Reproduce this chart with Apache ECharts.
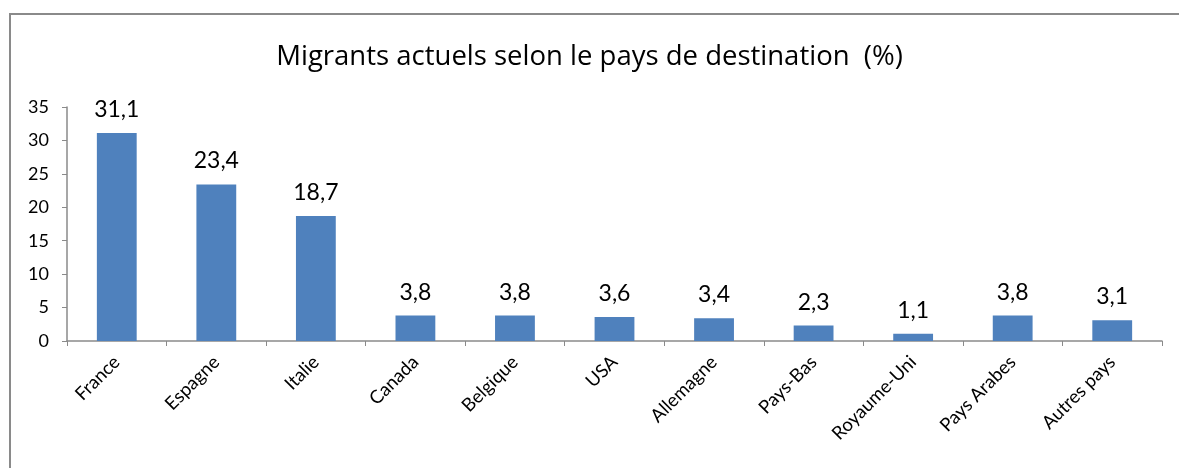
<!DOCTYPE html>
<html>
<head>
    <meta charset="utf-8">
    <title>Migrants actuels selon le pays de destination</title>
    <script src="https://cdn.jsdelivr.net/npm/echarts@6/dist/echarts.min.js"></script>
    <style>
        html, body { margin: 0; padding: 0; background: #fff; }
    </style>
</head>
<body>
    <div id="main" style="width:1179px;height:468px;"></div>
    <script type="text/javascript">
        // donnees
        var pays = ['France', 'Espagne', 'Italie', 'Canada', 'Belgique', 'USA',
                    'Allemagne', 'Pays-Bas', 'Royaume-Uni', 'Pays Arabes', 'Autres pays'];
        var migrants = [31.1, 23.4, 18.7, 3.8, 3.8, 3.6, 3.4, 2.3, 1.1, 3.8, 3.1];
        var yTicks = [0, 5, 10, 15, 20, 25, 30, 35];

        var police = 'Lato, "Open Sans", sans-serif';
        var myChart = echarts.init(document.getElementById('main'));

        var option = {
            animation: false,
            title: {
                text: 'Migrants actuels selon le pays de destination  (%)',
                left: 'center',
                top: 38,
                textStyle: { fontFamily: '"Open Sans", sans-serif', fontSize: 27.5, fontWeight: 'normal', color: '#000' }
            },
            graphic: [{
                type: 'polyline',
                shape: { points: [[10, 470], [10, 14], [1182, 14]] },
                style: { stroke: '#8a8a8a', lineWidth: 2, fill: null }
            }],
            grid: { left: 67, right: 17, top: 107, bottom: 127 },
            xAxis: {
                type: 'category',
                data: pays,
                axisLine: { lineStyle: { color: '#8a8a8a', width: 1.5 } },
                axisTick: { show: true, length: 5, lineStyle: { color: '#8a8a8a' } },
                axisLabel: {
                    rotate: 45,
                    margin: 18,
                    interval: 0,
                    fontFamily: police,
                    fontSize: 18.5,
                    color: '#000'
                }
            },
            yAxis: {
                type: 'value',
                min: yTicks[0],
                max: yTicks[yTicks.length - 1],
                interval: 5,
                splitLine: { show: false },
                axisLine: { show: true, lineStyle: { color: '#8a8a8a', width: 1.5 } },
                axisTick: { show: true, length: 5, lineStyle: { color: '#8a8a8a' } },
                axisLabel: { margin: 18, fontFamily: police, fontSize: 18, color: '#000' }
            },
            series: [{
                type: 'bar',
                data: migrants,
                barWidth: '40%',
                itemStyle: { color: '#4f81bd' },
                label: {
                    show: true,
                    position: 'top',
                    distance: 12,
                    fontFamily: police,
                    fontSize: 23,
                    color: '#000',
                    formatter: function (p) { return String(p.value).replace('.', ','); }
                }
            }]
        };
        myChart.setOption(option);
    </script>
</body>
</html>
